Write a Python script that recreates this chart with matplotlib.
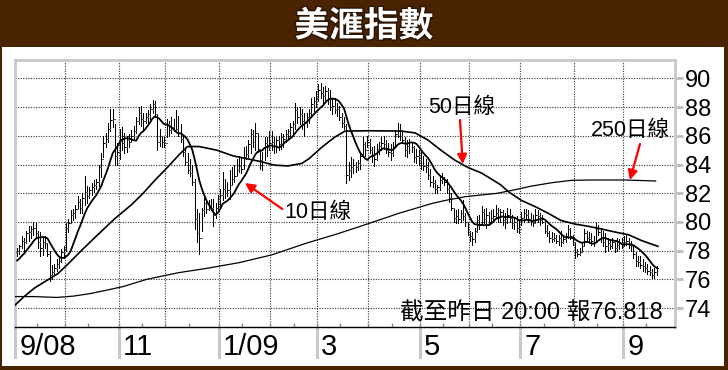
import numpy as np
import pandas as pd
import matplotlib
matplotlib.use("Agg")
import matplotlib.pyplot as plt
import matplotlib.transforms as mtransforms
from matplotlib import patheffects
from matplotlib.patches import Rectangle
from matplotlib.lines import Line2D

W, H = 728, 370
BROWN = "#4a2300"
FRAME = "#c8c8c8"
TXT = ["Liberation Sans", "Noto Sans CJK TC"]

title = "美滙指數"
note = "截至昨日 20:00 報76.818"

# trading days shown on the chart
dates = pd.bdate_range("2008-09-02", "2009-09-21")

# closes of the days just before the window (only used for the 10-day average)
pre_closes = [76.9, 76.8, 77.1, 77.0, 77.3, 77.4, 77.2, 77.5, 77.9]

closes = [
    78.0, 78.3, 78.7, 78.6, 79.2, 79.3, 79.5, 79.6, 79.2, 78.6, 78.2, 78.6, 78.5, 77.8, 76.3, 76.5, 76.8, 77.1, 77.3, 77.9, 78.1,  # 9/08
    79.6, 79.9, 80.5, 80.6, 80.9, 81.4, 81.0, 81.7, 82.1, 81.8, 82.2, 82.4, 82.6, 82.8, 83.8, 84.4, 85.5, 85.8, 86.5, 87.1, 87.2, 84.6, 84.9,  # 10
    85.8, 85.5, 85.2, 85.7, 85.6, 86.0, 86.3, 87.0, 87.6, 87.2, 87.0, 87.3, 87.5, 87.9, 88.2, 87.5, 85.6, 86.0, 85.6, 85.5,  # 11
    86.8, 86.4, 86.6, 86.4, 86.5, 86.2, 85.8, 84.9, 84.2, 83.6, 83.4, 82.8, 80.2, 79.2, 78.9, 80.8, 81.3, 80.9, 81.2, 81.0, 80.5, 81.0, 81.6,  # 12
    81.9, 82.3, 82.0, 82.2, 82.6, 83.0, 83.2, 83.6, 83.9, 83.7, 84.5, 84.7, 85.4, 86.1, 85.6, 86.2, 85.1, 84.3, 84.2, 85.5, 85.2, 85.5,  # 1/09
    85.6, 85.3, 85.7, 85.4, 85.9, 85.8, 86.1, 86.3, 86.6, 86.8, 87.8, 87.3, 87.5, 87.0, 86.9, 87.3, 87.6, 88.2, 88.4, 88.6,  # 2
    89.2, 89.0, 88.8, 89.1, 88.6, 88.0, 88.1, 87.8, 87.9, 87.3, 86.9, 86.7, 83.3, 83.6, 83.8, 84.0, 83.8, 84.1, 84.6, 85.4, 85.0, 85.6,  # 3
    85.0, 84.6, 84.4, 85.1, 85.3, 85.5, 85.4, 85.0, 84.9, 84.8, 85.3, 86.1, 86.4, 86.0, 85.7, 85.0, 85.3, 85.6, 85.2, 84.5, 84.6, 84.3,  # 4
    84.0, 83.9, 83.8, 83.3, 82.8, 82.7, 82.3, 82.4, 82.9, 83.0, 82.8, 82.3, 81.7, 81.0, 80.3, 80.4, 80.2, 80.6, 80.4, 80.0, 79.3,  # 5
    79.0, 78.8, 79.4, 80.1, 79.8, 80.7, 80.2, 80.5, 80.0, 80.3, 80.4, 80.6, 80.3, 80.7, 80.1, 80.2, 80.5, 80.3, 79.9, 80.0, 79.6, 79.5,  # 6
    80.3, 80.6, 80.5, 80.2, 80.0, 79.9, 80.5, 80.4, 80.1, 80.0, 79.4, 79.2, 78.9, 78.8, 78.9, 78.7, 78.9, 78.6, 78.8, 79.0, 79.5, 79.0, 78.6,  # 7
    77.9, 77.8, 77.9, 78.3, 79.2, 78.9, 78.8, 78.7, 78.6, 79.5, 79.3, 78.9, 78.6, 78.3, 78.5, 78.3, 78.6, 78.2, 78.4, 78.5, 78.3,  # 8
    78.6, 78.7, 78.4, 78.3, 77.8, 77.3, 77.2, 77.0, 76.9, 76.8, 76.6, 76.5, 76.3, 76.5, 76.818,  # 9
]
highs = [
    78.2, 78.4, 79.0, 78.9, 79.4, 79.7, 79.7, 80.0, 79.9, 79.4, 79.3, 78.9, 79.0, 78.5, 78.0, 77.0, 77.1, 77.4, 77.6, 78.1, 78.3,
    79.9, 80.2, 80.8, 80.9, 81.2, 81.8, 81.6, 82.0, 83.2, 82.5, 82.4, 82.7, 82.9, 83.0, 84.0, 84.8, 86.0, 86.2, 86.9, 87.9, 87.9, 86.8, 85.5,
    86.5, 86.6, 86.2, 86.0, 86.1, 86.4, 86.7, 87.3, 88.0, 88.1, 87.6, 87.6, 87.8, 88.2, 88.5, 88.4, 87.5, 86.5, 86.0, 85.9,
    87.2, 87.0, 87.3, 87.2, 87.8, 87.4, 86.8, 86.0, 85.2, 84.8, 84.4, 84.0, 83.0, 80.9, 80.6, 81.0, 81.8, 81.5, 81.5, 81.6, 81.6, 81.3, 81.9,
    82.3, 83.5, 83.0, 82.8, 83.6, 83.8, 84.0, 84.4, 84.6, 84.5, 85.2, 85.3, 85.7, 86.5, 86.4, 86.9, 86.2, 85.1, 84.9, 85.9, 85.9, 86.3,
    86.3, 85.9, 85.9, 86.0, 86.2, 86.1, 86.4, 86.5, 86.9, 87.0, 88.3, 88.0, 88.0, 87.9, 87.6, 87.6, 87.9, 88.6, 88.7, 89.1,
    89.6, 89.7, 89.4, 89.5, 89.3, 89.2, 88.6, 88.6, 88.3, 88.1, 87.6, 87.3, 86.8, 84.2, 84.5, 84.4, 84.2, 84.3, 84.8, 85.9, 85.6, 86.0,
    85.8, 85.2, 85.3, 85.4, 85.6, 85.9, 86.0, 85.7, 85.5, 85.4, 85.6, 86.4, 86.9, 86.8, 86.4, 85.9, 85.7, 85.8, 85.6, 85.3, 85.1, 85.0,
    84.9, 84.6, 84.4, 84.2, 83.7, 83.2, 82.9, 82.6, 83.2, 83.4, 83.1, 83.0, 82.5, 82.0, 81.0, 80.8, 80.9, 80.8, 81.5, 80.6, 80.0,
    79.4, 79.3, 79.6, 80.4, 80.5, 81.1, 80.9, 81.0, 80.7, 80.8, 80.9, 81.2, 81.0, 80.9, 80.8, 80.6, 81.0, 80.9, 80.5, 80.3, 80.4, 80.1,
    80.7, 80.9, 80.9, 80.8, 80.6, 80.5, 80.9, 80.8, 80.6, 80.5, 80.2, 79.8, 79.4, 79.3, 79.2, 79.1, 79.1, 79.4, 79.1, 79.2, 79.8, 79.6, 79.1,
    78.6, 78.1, 78.2, 78.6, 79.5, 79.4, 79.3, 79.2, 79.0, 79.9, 79.8, 79.6, 79.4, 79.2, 78.9, 78.8, 78.9, 78.7, 78.9, 78.8, 78.9,
    79.0, 79.1, 78.9, 78.7, 78.3, 77.9, 77.6, 77.6, 77.4, 77.2, 77.1, 76.9, 76.7, 76.8, 76.9,
]
lows = [
    77.6, 77.8, 78.2, 78.0, 78.5, 78.7, 78.9, 79.1, 78.9, 78.2, 77.6, 77.7, 78.2, 77.6, 75.9, 76.0, 76.3, 76.6, 76.8, 77.2, 77.5,
    78.0, 79.3, 79.9, 80.1, 80.3, 80.9, 80.6, 80.6, 81.2, 81.3, 81.7, 81.9, 82.1, 82.3, 82.5, 83.1, 84.5, 85.2, 85.6, 86.3, 86.6, 84.0, 84.0,
    84.4, 85.0, 84.8, 84.9, 85.2, 85.6, 85.7, 86.2, 86.8, 86.7, 86.5, 86.9, 86.9, 87.2, 87.6, 87.3, 85.0, 85.3, 85.2, 85.2,
    85.9, 86.0, 86.2, 86.3, 86.4, 86.0, 85.6, 84.6, 84.0, 83.4, 83.2, 82.6, 79.5, 78.6, 77.8, 79.4, 80.4, 80.6, 80.8, 80.8, 79.7, 80.3, 80.9,
    81.0, 81.5, 81.7, 81.8, 81.6, 82.6, 82.8, 83.3, 83.5, 83.4, 83.7, 84.4, 84.5, 84.8, 85.2, 85.0, 84.9, 83.7, 83.6, 84.3, 84.6, 85.0,
    85.0, 84.8, 84.9, 85.0, 85.1, 85.2, 85.6, 85.8, 85.9, 86.1, 86.5, 86.9, 86.8, 86.5, 86.0, 86.6, 86.9, 87.4, 87.7, 88.0,
    88.4, 88.6, 88.3, 88.5, 88.2, 87.8, 87.5, 87.6, 87.4, 87.1, 86.6, 86.5, 82.7, 82.9, 83.1, 83.4, 83.5, 83.6, 83.7, 84.5, 84.6, 85.2,
    84.8, 84.2, 83.9, 84.3, 84.7, 85.0, 85.1, 84.8, 84.6, 84.3, 84.6, 85.2, 85.9, 85.7, 85.5, 84.6, 84.5, 84.8, 84.9, 84.2, 84.1, 84.0,
    83.7, 83.6, 83.5, 83.0, 82.5, 82.4, 82.0, 82.0, 82.2, 82.7, 82.6, 82.0, 81.4, 80.8, 80.0, 79.9, 79.9, 80.0, 80.1, 79.7, 79.1,
    78.7, 78.4, 78.6, 79.3, 79.5, 79.8, 79.9, 79.6, 79.8, 80.0, 80.0, 80.3, 80.0, 80.0, 79.8, 79.6, 79.9, 80.0, 79.6, 79.5, 79.3, 79.2,
    79.8, 80.0, 80.3, 80.0, 79.8, 79.7, 79.9, 80.0, 79.8, 79.9, 79.2, 79.0, 78.6, 78.6, 78.7, 78.5, 78.4, 78.3, 78.5, 78.6, 78.9, 78.8, 78.4,
    77.5, 77.6, 77.7, 77.9, 78.4, 78.6, 78.5, 78.4, 78.3, 78.6, 79.1, 78.6, 78.3, 77.9, 78.0, 78.1, 78.2, 77.9, 78.0, 78.1, 78.2,
    78.3, 78.4, 78.2, 78.0, 77.5, 76.9, 76.9, 76.8, 76.6, 76.5, 76.4, 76.3, 76.1, 76.1, 76.3,
]

# 50-day and 250-day averages (bar index, value)
ma50_idx = [-0.9, 3, 7.5, 13, 17.5, 22, 27.5, 34.5, 42, 49, 54, 59, 64.7, 69.5, 73, 78, 85.5, 92.5, 98.5,
            104.5, 110, 116, 122, 125, 130.5, 136, 140.5, 150.5, 164.5, 170.5, 176, 181.5, 187.5, 193,
            199, 207, 210.5, 216, 222, 227.5, 233, 239, 244.5, 250.5, 256, 262, 267.5, 274.5]
ma50_val = [74.2, 74.8, 75.4, 75.95, 76.4, 77.1, 78.0, 79.1, 80.25, 81.2, 82.0, 82.9, 83.85, 84.7, 85.25, 85.25, 85.0, 84.6, 84.4,
            84.2, 83.96, 83.9, 84.08, 84.4, 85.2, 85.9, 86.33, 86.35, 86.33, 86.2, 85.7, 85.0, 84.3, 83.8,
            83.4, 82.6, 82.1, 81.5, 81.06, 80.6, 80.1, 79.85, 79.7, 79.5, 79.3, 79.1, 78.7, 78.3]
ma250_idx = [-0.9, 7, 17, 24, 31, 38.5, 45.5, 55.5, 69, 81, 95, 109, 123.5, 137, 149, 163.5, 178, 183.5,
             192, 205.5, 212, 220.5, 229, 237.5, 246, 260.5, 273.5]
ma250_val = [74.8, 74.8, 74.74, 74.83, 75.0, 75.25, 75.5, 76.0, 76.46, 76.76, 77.16, 77.7, 78.5, 79.16, 79.8, 80.6, 81.3, 81.5,
             81.76, 81.99, 82.2, 82.5, 82.73, 82.9, 82.92, 82.92, 82.85]

yticks = [74, 76, 78, 80, 82, 84, 86, 88, 90]
label_months = ["2008-09", "2008-11", "2009-01", "2009-03", "2009-05", "2009-07", "2009-09"]
label_texts = ["9/08", "11", "1/09", "3", "5", "7", "9"]

# month boundaries in bar-index units
months = dates.to_period("M").astype(str)
starts = {m: i for i, m in reversed(list(enumerate(months)))}
bounds = [starts[m] - 0.5 for m in months.unique()[1:]]
mids = [np.searchsorted(dates, pd.Timestamp(m + "-15")) - 0.5 for m in months.unique()]

fig = plt.figure(figsize=(W / 100, H / 100), dpi=100)
fig.patch.set_facecolor(BROWN)
fig.add_artist(Rectangle((2 / W, 4 / H), 722 / W, 319 / H, transform=fig.transFigure,
                         facecolor="white", edgecolor="none", zorder=0))
fig.text(364 / W, 1 - 26 / H, title, ha="center", va="center", color="white",
         fontsize=25, fontweight="bold", family=["Noto Sans CJK TC"],
         path_effects=[patheffects.withStroke(linewidth=2, foreground="#2a1200")])

ax = fig.add_axes([15 / W, 1 - 327 / H, 660 / W, 267 / H])
ax.set_xlim(-0.9, 281.8)
ax.set_ylim(72.68, 91.28)
for s in ("top", "left", "right"):
    ax.spines[s].set_color(FRAME)
    ax.spines[s].set_linewidth(2)
ax.spines["bottom"].set_color("black")
ax.spines["bottom"].set_linewidth(1)

ax.yaxis.tick_right()
ax.set_yticks(yticks)
ax.set_yticklabels([str(v) for v in yticks], family=TXT, fontsize=17)
ax.tick_params(axis="y", length=6, width=2, color="#bdbdbd", pad=1)
ax.set_xticks(sorted(bounds + mids))
ax.tick_params(axis="x", direction="in", length=3, width=1, color="#888888", labelbottom=False)

dots = (0, (1, 1.3))
for v in yticks:
    ax.axhline(v, color="#333333", lw=0.8, ls=dots, zorder=1)
for b in bounds:
    ax.axvline(b, color="#333333", lw=0.8, ls=dots, zorder=1)

# daily bars
x = np.arange(len(closes))
opens = [pre_closes[-1]] + closes[:-1]
ax.vlines(x, lows, highs, colors="black", lw=0.72, antialiased=False, zorder=3)
ax.hlines(closes, x, x + 0.5, colors="black", lw=0.72, antialiased=False, zorder=3)
ax.hlines(opens, x - 0.45, x, colors="#555555", lw=0.72, antialiased=False, zorder=3)

ma10 = pd.Series(pre_closes + closes).rolling(10).mean().to_numpy()[len(pre_closes):]
ax.plot(x, ma10, color="black", lw=1.3, zorder=4)
ax.plot(ma50_idx, ma50_val, color="black", lw=1.2, zorder=4)
ax.plot(ma250_idx, ma250_val, color="black", lw=0.9, zorder=4)

arrow = dict(arrowstyle="-|>", color="#ff0000", lw=1.6, mutation_scale=14, shrinkA=0, shrinkB=0)
ax.annotate("", xy=(97.6, 82.71), xytext=(113.6, 80.9), arrowprops=arrow, zorder=5)
ax.text(114.5, 80.65, "10日線", ha="left", va="center", fontsize=15.5, family=TXT, zorder=5)
ax.annotate("", xy=(190.9, 84.03), xytext=(189.7, 87.1), arrowprops=arrow, zorder=5)
ax.text(190.3, 87.97, "50日線", ha="center", va="center", fontsize=15.5, family=TXT, zorder=5)
ax.annotate("", xy=(262.5, 82.92), xytext=(266.8, 85.43), arrowprops=arrow, zorder=5)
ax.text(262.5, 86.4, "250日線", ha="center", va="center", fontsize=15.5, family=TXT, zorder=5)
ax.text(276.6, 73.2, note, ha="right", va="baseline", fontsize=17, family=TXT, zorder=5)

# date strip under the axis
trans = mtransforms.blended_transform_factory(ax.transData, ax.transAxes)
for m, lab in zip(label_months, label_texts):
    pos = -0.9 if m == label_months[0] else starts[m] - 0.5
    if m != label_months[0]:
        ax.add_line(Line2D([pos, pos], [0, -0.112], transform=trans, color=FRAME, lw=2.2, clip_on=False))
    ax.text(pos + 1.8, -0.105, lab, transform=trans, ha="left", va="baseline", fontsize=21,
            family=["Liberation Sans Narrow", "Liberation Sans"], clip_on=False)
ax.add_line(Line2D([-0.9, -0.9], [0, -0.112], transform=trans, color=FRAME, lw=2.2, clip_on=False))

fig.savefig("out.png", dpi=100, facecolor=fig.get_facecolor())
